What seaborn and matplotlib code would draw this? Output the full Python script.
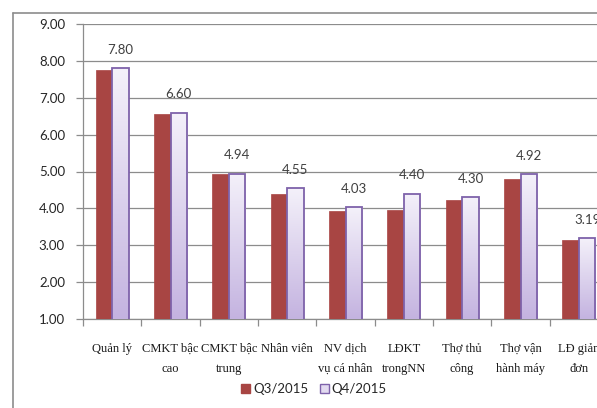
import numpy as np
import pandas as pd
import matplotlib
matplotlib.use("Agg")
import matplotlib.pyplot as plt
import seaborn as sns
from matplotlib.colors import LinearSegmentedColormap
from matplotlib.patches import Rectangle
from matplotlib.lines import Line2D

categories = ["Quản lý", "CMKT bậc\ncao", "CMKT bậc\ntrung", "Nhân viên",
              "NV dịch\nvụ cá nhân", "LĐKT\ntrongNN", "Thợ thủ\ncông",
              "Thợ vận\nhành máy", "LĐ giản\nđơn"]
q3_2015 = [7.75, 6.56, 4.93, 4.39, 3.93, 3.96, 4.23, 4.80, 3.15]
q4_2015 = [7.80, 6.60, 4.94, 4.55, 4.03, 4.40, 4.30, 4.92, 3.19]
series_names = ["Q3/2015", "Q4/2015"]
y_ticks = [1, 2, 3, 4, 5, 6, 7, 8, 9]

df = pd.DataFrame({
    "cat": categories * 2,
    "val": q3_2015 + q4_2015,
    "series": [series_names[0]] * len(categories) + [series_names[1]] * len(categories),
})

sns.set_theme(style="white")
plt.rcParams["font.family"] = ["Lato", "DejaVu Sans"]

W, H = 597, 408
fig = plt.figure(figsize=(W / 100, H / 100), dpi=100)
ax = fig.add_axes([83 / W, (H - 319) / H, 525 / W, 295 / H])

red = "#A84543"
edge = "#7E62AA"
sns.barplot(data=df, x="cat", y="val", hue="series", order=categories,
            hue_order=series_names, palette=[red, "#E2DAF0"], width=0.57,
            gap=0, ax=ax, legend=False, saturation=1, linewidth=0, zorder=3)

ymin = 1
# gradient fill for Q4 bars
cmap = LinearSegmentedColormap.from_list("lav", ["#C4B3E0", "#F4F1FA"])
grad = np.linspace(0, 1, 256).reshape(-1, 1)
q4c = ax.containers[1]
for p in q4c:
    p.set_facecolor("none")
    p.set_edgecolor(edge)
    p.set_linewidth(1.3)
    p.set_zorder(4)
    x0, w, h = p.get_x(), p.get_width(), p.get_height()
    im = ax.imshow(grad, extent=[x0, x0 + w, ymin, h], origin="lower",
                   aspect="auto", cmap=cmap, zorder=3.5)
    im.set_clip_path(p)
for p in ax.containers[0]:
    p.set_edgecolor(red)
    p.set_linewidth(0.5)

ax.bar_label(q4c, labels=[f"{v:.2f}" for v in q4_2015], padding=9,
             fontsize=9.5, color="#404040", family=["Lato", "DejaVu Sans"])

ax.set_xlim(-0.5, len(categories) - 0.5)
ax.set_ylim(ymin, 9)
ax.set_yticks(y_ticks)
ax.set_yticklabels([f"{t:.2f}" for t in y_ticks], fontsize=9.5, color="#262626")
ax.yaxis.grid(True, color="#8C8C8C", linewidth=0.9)
ax.set_axisbelow(True)
ax.set_xlabel("")
ax.set_ylabel("")

ax.set_xticks(range(len(categories)))
ax.set_xticklabels(categories, fontsize=9, family=["Liberation Serif", "DejaVu Serif"],
                   color="#1a1a1a", linespacing=1.95, va="top")
ax.set_xticks(np.arange(-0.5, len(categories), 1), minor=True)
ax.tick_params(axis="x", which="major", length=0, pad=17)
ax.tick_params(axis="x", which="minor", length=5, width=0.9, color="#8C8C8C", direction="out", bottom=True)
ax.tick_params(axis="y", length=5, width=0.9, color="#8C8C8C", direction="out", left=True, pad=8)

for s in ["top", "right"]:
    ax.spines[s].set_visible(False)
for s in ["left", "bottom"]:
    ax.spines[s].set_color("#8C8C8C")
    ax.spines[s].set_linewidth(0.9)

# chart area border
fig.add_artist(Line2D([13 / W, 13 / W], [0, (H - 13) / H], color="#8C8C8C", lw=1.2, transform=fig.transFigure))
fig.add_artist(Line2D([13 / W, 1], [(H - 13) / H, (H - 13) / H], color="#8C8C8C", lw=1.2, transform=fig.transFigure))

handles = [Rectangle((0, 0), 1, 1, facecolor=red, edgecolor=red),
           Rectangle((0, 0), 1, 1, facecolor="#E2DAF0", edgecolor=edge, linewidth=1.0)]
fig.legend(handles, series_names, loc="center", bbox_to_anchor=(314 / W, (H - 389) / H),
           ncol=2, frameon=False, fontsize=9.5, handlelength=0.65, handleheight=0.65,
           handletextpad=0.25, columnspacing=0.9, borderpad=0)

fig.savefig("out.png", dpi=100)
